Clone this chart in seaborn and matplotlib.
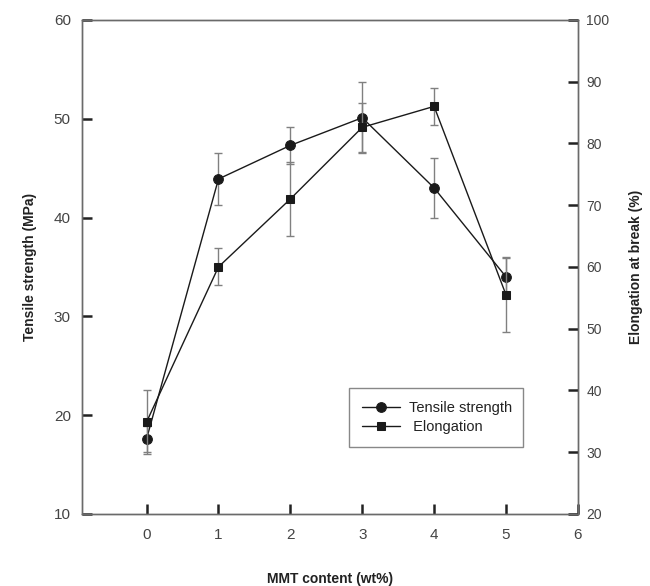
import matplotlib
matplotlib.use("Agg")
import matplotlib.pyplot as plt
import seaborn as sns
import pandas as pd

mmt = [0, 1, 2, 3, 4, 5]
tensile = [17.6, 43.9, 47.3, 50.1, 43.0, 34.0]
tensile_err = [1.3, 2.6, 1.9, 3.6, 3.0, 2.0]
elong = [34.9, 60.0, 71.0, 82.6, 86.0, 55.5]
elong_err = [5.2, 3.0, 6.0, 4.0, 3.0, 6.0]

sns.set_style("white")
plt.rcParams["font.family"] = ["Liberation Sans", "DejaVu Sans"]

df = pd.DataFrame({"mmt": mmt, "tensile": tensile, "elong": elong})

fig = plt.figure(figsize=(6.5, 5.86), dpi=100)
ax = fig.add_axes([0.126, 0.123, 0.763, 0.843])
ax2 = ax.twinx()

line_c = "#1a1a1a"
err_c = "#808080"
spine_c = "#6a6a6a"

# error bars first so markers sit on top
ax.errorbar(mmt, tensile, yerr=tensile_err, fmt="none", ecolor=err_c,
            elinewidth=1, capsize=3, capthick=1, zorder=2)
ax2.errorbar(mmt, elong, yerr=elong_err, fmt="none", ecolor=err_c,
             elinewidth=1, capsize=3, capthick=1, zorder=2)

sns.lineplot(data=df, x="mmt", y="tensile", ax=ax, color=line_c, lw=1,
             marker="o", markersize=7, markeredgecolor=line_c,
             label="Tensile strength", legend=False, zorder=3)
sns.lineplot(data=df, x="mmt", y="elong", ax=ax2, color=line_c, lw=1,
             marker="s", markersize=6, markeredgecolor=line_c,
             label=" Elongation", legend=False, zorder=3)

ax.set_xlim(-0.9, 6)
ax.set_ylim(10, 60)
ax2.set_ylim(20, 100)
ax.set_xticks(range(0, 7))
ax.set_yticks(range(10, 61, 10))
ax2.set_yticks(range(20, 101, 10))

for a in (ax, ax2):
    for s in a.spines.values():
        s.set_color(spine_c)
        s.set_linewidth(1)

ax.tick_params(axis="both", direction="in", length=7, width=1.8, color="#222222",
               labelsize=11, labelcolor="#444444", pad=8, bottom=True, left=True)
ax.tick_params(axis="x", pad=10)
ax2.tick_params(axis="y", direction="in", length=7, width=1.8, color="#222222",
                labelsize=10, labelcolor="#444444", pad=6, right=True)

ax.set_xlabel("MMT content (wt%)", fontsize=10, fontweight="bold", color="#222222", labelpad=22)
ax.set_ylabel("Tensile strength (MPa)", fontsize=10, fontweight="bold", color="#222222", labelpad=12)
ax2.set_ylabel("Elongation at break (%)", fontsize=10, fontweight="bold", color="#222222", labelpad=14)

h1, l1 = ax.get_legend_handles_labels()
h2, l2 = ax2.get_legend_handles_labels()
leg = ax2.legend(h1 + h2, l1 + l2, loc="lower left", bbox_to_anchor=(0.524, 0.121, 0.381, 0.132),
                 mode="expand", fontsize=10.5, frameon=True, fancybox=False,
                 handlelength=2.6, handletextpad=0.6, borderpad=0.9, labelspacing=0.3)
leg.get_frame().set_edgecolor(spine_c)
leg.get_frame().set_linewidth(1)
for t in leg.get_texts():
    t.set_color("#222222")

fig.savefig("out.png", dpi=100)
